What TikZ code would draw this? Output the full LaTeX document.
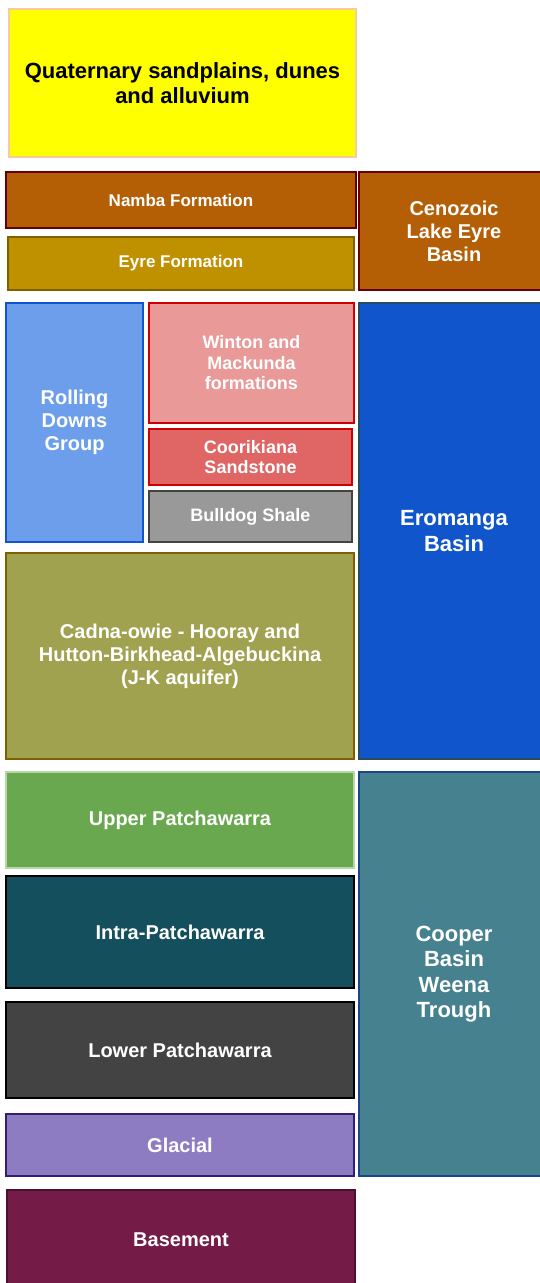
\documentclass[tikz,border=0pt]{standalone}
\usepackage{fontspec}
\setmainfont{Liberation Sans}
\definecolor{jaune}{HTML}{FFFF00}
\definecolor{jauneb}{HTML}{F9CB9C}
\definecolor{brun}{HTML}{B45F06}
\definecolor{brunb}{HTML}{660000}
\definecolor{ocre}{HTML}{BF9000}
\definecolor{ocreb}{HTML}{7F6000}
\definecolor{bleuclair}{HTML}{6D9EEB}
\definecolor{bleu}{HTML}{1155CC}
\definecolor{bleub}{HTML}{274E5C}
\definecolor{rose}{HTML}{EA9999}
\definecolor{rouge}{HTML}{E06666}
\definecolor{rougeb}{HTML}{CC0000}
\definecolor{gris}{HTML}{999999}
\definecolor{grisb}{HTML}{434343}
\definecolor{olive}{HTML}{A0A24F}
\definecolor{vert}{HTML}{6AA84F}
\definecolor{vertb}{HTML}{B6D7A8}
\definecolor{canard}{HTML}{134F5C}
\definecolor{anthracite}{HTML}{434343}
\definecolor{violet}{HTML}{8E7CC3}
\definecolor{violetb}{HTML}{351C75}
\definecolor{lie}{HTML}{741B47}
\definecolor{lieb}{HTML}{4C1130}
\definecolor{petrole}{HTML}{45818E}
\definecolor{petroleb}{HTML}{1C4587}
\begin{document}
\begin{tikzpicture}[x=1pt,y=-1pt]
            \tikzstyle{couche}=[rectangle,draw,line width=2pt,inner sep=0pt,align=center,text=white,font=\bfseries]
            \tikzstyle{petit}=[font=\fontsize{18}{20.5}\selectfont\bfseries]
            \tikzstyle{fin}=[font=\fontsize{17}{20}\selectfont\bfseries]
            \tikzstyle{moyen}=[font=\fontsize{20}{23}\selectfont\bfseries]
            \tikzstyle{grand}=[font=\fontsize{22}{25.5}\selectfont\bfseries]
            \useasboundingbox (0,0) rectangle (540,1283);
            \node[couche,grand,fill=jaune,draw=jauneb,text=black,minimum width=347pt,minimum height=148pt] (quat) at (182.5,83) {Quaternary sandplains, dunes\\and alluvium};
            \node[couche,fin,fill=brun,draw=brunb,minimum width=350pt,minimum height=56pt] (namba) at (181,200) {Namba Formation};
            \node[couche,fin,fill=ocre,draw=ocreb,minimum width=346pt,minimum height=53pt] (eyre) at (181,263.5) {Eyre Formation};
            \node[couche,moyen,fill=brun,draw=brunb,minimum width=190pt,minimum height=118pt] (cenozoic) at (454,231) {Cenozoic\\Lake Eyre\\Basin};
            \node[couche,moyen,fill=bleuclair,draw=bleu,minimum width=137pt,minimum height=239pt] (rolling) at (74.5,422.5) {Rolling\\Downs\\Group};
            \node[couche,petit,fill=rose,draw=rougeb,minimum width=205pt,minimum height=120pt] (winton) at (251.5,363) {Winton and\\Mackunda\\formations};
            \node[couche,petit,fill=rouge,draw=rougeb,minimum width=203pt,minimum height=56pt] (coorikiana) at (250.5,457) {Coorikiana\\Sandstone};
            \node[couche,petit,fill=gris,draw=grisb,minimum width=203pt,minimum height=51pt] (bulldog) at (250.5,516.5) {Bulldog Shale};
            \node[couche,moyen,fill=olive,draw=ocreb,minimum width=348pt,minimum height=206pt] (cadna) at (180,656) {Cadna-owie - Hooray and\\Hutton-Birkhead-Algebuckina\\(J-K aquifer)};
            \node[couche,grand,fill=bleu,draw=bleub,minimum width=190pt,minimum height=456pt] (eromanga) at (454,531) {Eromanga\\Basin};
            \node[couche,moyen,fill=vert,draw=vertb,minimum width=348pt,minimum height=96pt] (upper) at (180,820) {Upper Patchawarra};
            \node[couche,moyen,fill=canard,draw=black,minimum width=348pt,minimum height=112pt] (intra) at (180,932) {Intra-Patchawarra};
            \node[couche,moyen,fill=anthracite,draw=black,minimum width=348pt,minimum height=96pt] (lower) at (180,1050) {Lower Patchawarra};
            \node[couche,moyen,fill=violet,draw=violetb,minimum width=348pt,minimum height=62pt] (glacial) at (180,1145) {Glacial};
            \node[couche,moyen,fill=lie,draw=lieb,minimum width=348pt,minimum height=100pt] (basement) at (181,1240) {Basement};
            \node[couche,grand,fill=petrole,draw=petroleb,minimum width=190pt,minimum height=404pt] (cooper) at (454,974) {Cooper\\Basin\\Weena\\Trough};
\end{tikzpicture}
\end{document}
